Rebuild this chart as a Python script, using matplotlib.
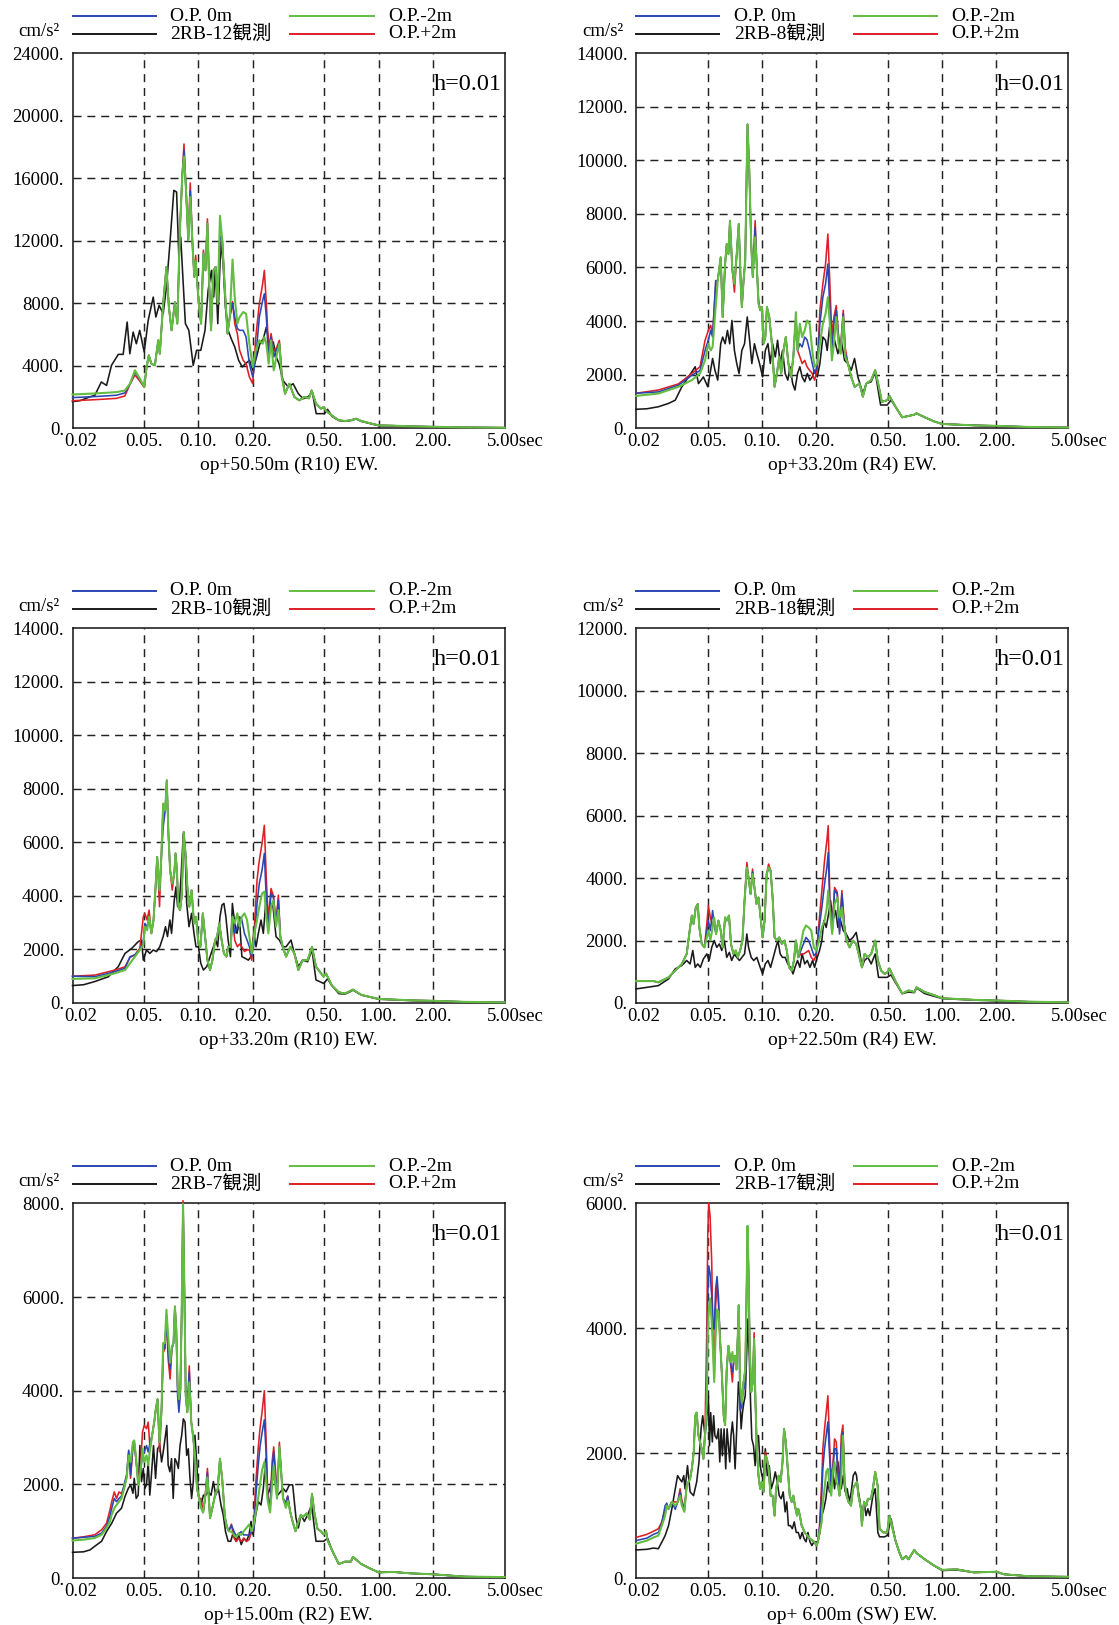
import matplotlib
matplotlib.use("Agg")
import matplotlib.pyplot as plt
import matplotlib.transforms as mtransforms

plt.rcParams['font.family'] = ['Liberation Serif', 'Noto Sans CJK JP']

# ---------------- panel 1 : op+50.50m (R10) ----------------
p1_t_obs = [0.02, 0.022, 0.025, 0.0266, 0.0289, 0.0309, 0.0329, 0.0359, 0.0382, 0.0402,
            0.0416, 0.0434, 0.0452, 0.0472, 0.05, 0.0526, 0.0561, 0.058, 0.0605, 0.0637,
            0.0664, 0.0694, 0.073, 0.0756, 0.0778, 0.0797, 0.0821, 0.0846, 0.0884, 0.0935,
            0.0976, 0.103, 0.1087, 0.1131, 0.118, 0.1215, 0.124, 0.128, 0.133, 0.137,
            0.141, 0.146, 0.152, 0.159, 0.167, 0.175, 0.182, 0.192, 0.2, 0.21,
            0.219, 0.229, 0.238, 0.249, 0.26, 0.27, 0.28, 0.294, 0.315, 0.335,
            0.358, 0.381, 0.405, 0.428, 0.45, 0.5, 0.52, 0.55, 0.6, 0.65,
            0.7, 0.75, 0.8, 0.9, 1.0, 1.2, 1.5, 2.0, 3.0, 5.0]
p1_obs = [1700, 1750, 2000, 2093, 2950, 2730, 4015, 4720, 4720, 6790,
          4760, 6150, 5400, 6260, 4870, 6900, 8390, 7110, 7860, 7330,
          9035, 11810, 15230, 15120, 10960, 12240, 9460, 6690, 6260, 4015,
          4980, 4980, 6260, 8820, 10100, 8390, 10320, 6690, 11920, 10530,
          7750, 6260, 5720, 5190, 4340, 3910, 4120, 4340, 3700, 4550,
          5400, 5720, 6470, 5190, 5510, 4550, 4120, 3050, 2630, 2840,
          2200, 1880, 1990, 2310, 920, 920, 1200, 750, 480, 430,
          480, 580, 430, 280, 150, 140, 100, 70, 35, 15]
p1_t_sim = [0.02, 0.025, 0.03, 0.035, 0.039, 0.0417, 0.0444, 0.0473, 0.05, 0.0515,
            0.053, 0.0548, 0.0573, 0.0598, 0.061, 0.0637, 0.0664, 0.0685, 0.0709, 0.074,
            0.0763, 0.079, 0.0814, 0.0831, 0.0853, 0.0878, 0.09, 0.0928, 0.0948, 0.0965,
            0.0982, 0.1008, 0.1034, 0.1065, 0.1093, 0.1121, 0.1145, 0.1174, 0.121, 0.1246,
            0.1278, 0.1316, 0.1355, 0.1401, 0.1449, 0.1492, 0.1545, 0.1589, 0.1643, 0.1691,
            0.177, 0.1837, 0.1916, 0.2, 0.208, 0.2176, 0.2271, 0.232, 0.238, 0.2452,
            0.2527, 0.2615, 0.2705, 0.2811, 0.2896, 0.3022, 0.3194, 0.3404, 0.3628, 0.3867,
            0.41, 0.4246, 0.4488, 0.4783, 0.4948, 0.51, 0.55, 0.6, 0.65, 0.7,
            0.75, 0.8, 0.9, 1.0, 1.2, 1.5, 2.0, 3.0, 5.0]
p1_opm2 = [2150, 2200, 2250, 2300, 2400, 2840, 3700, 3160, 2630, 3910,
           4660, 4120, 4015, 5620, 4760, 7970, 10320, 7750, 6260, 8070,
           6690, 12880, 16300, 17400, 15230, 12030, 14800, 11600, 9680, 10700,
           9460, 7750, 6690, 11200, 10100, 13100, 9460, 6260, 10100, 10320,
           7970, 13600, 12030, 8820, 6050, 7110, 10800, 8390, 6690, 7110,
           7430, 7330, 5400, 3910, 4980, 5620, 5400, 5830, 5400, 4120,
           5620, 3700, 4550, 5400, 3270, 2200, 2840, 1990, 1770, 1990,
           1900, 2410, 1560, 1240, 1350, 1100, 800, 500, 450, 500,
           600, 450, 300, 170, 150, 110, 80, 40, 20]
p1_op0 = [1950, 2000, 2050, 2100, 2250, 2840, 3600, 3100, 2700, 3900,
          4660, 4120, 4015, 5620, 4760, 7970, 10320, 7750, 6260, 8070,
          6690, 12880, 16300, 17800, 15230, 12030, 15200, 11600, 9680, 10700,
          9460, 7750, 6690, 11200, 10100, 13100, 9460, 6260, 10100, 10320,
          7970, 12300, 12030, 8820, 6050, 7110, 8000, 7110, 6370, 6260,
          6260, 5830, 4120, 3270, 4550, 7110, 8180, 8600, 7110, 4340,
          5830, 4550, 4980, 5400, 3400, 2200, 2840, 1990, 1770, 1990,
          1900, 2410, 1560, 1240, 1350, 1100, 800, 500, 450, 500,
          600, 450, 300, 170, 150, 110, 80, 40, 20]
p1_opp2 = [1750, 1800, 1850, 1900, 2050, 2800, 3400, 3000, 2600, 3800,
           4660, 4120, 4015, 5620, 4760, 7970, 10320, 7750, 6260, 8070,
           6690, 12880, 16300, 18200, 15230, 12030, 15700, 11600, 9680, 11060,
           9460, 7750, 6690, 11400, 10100, 13400, 9460, 6260, 10100, 10320,
           7970, 12300, 12030, 8820, 6050, 7110, 8100, 6690, 6050, 4980,
           4340, 4120, 3270, 2840, 5830, 7970, 9250, 10100, 7970, 4980,
           6050, 4980, 5100, 5620, 3500, 2200, 2840, 1990, 1770, 1990,
           1900, 2410, 1560, 1240, 1350, 1100, 800, 500, 450, 500,
           600, 450, 300, 170, 150, 110, 80, 40, 20]

# ---------------- panel 2 : op+33.20m (R4) ----------------
p2_t_obs = [0.02, 0.023, 0.0266, 0.0303, 0.033, 0.0359, 0.0391, 0.0426, 0.0444, 0.0473,
            0.05, 0.0515, 0.0532, 0.0548, 0.0568, 0.059, 0.0605, 0.0624, 0.0643, 0.0662,
            0.0681, 0.0703, 0.0724, 0.0746, 0.0773, 0.08, 0.0828, 0.085, 0.0878, 0.0908,
            0.0936, 0.0969, 0.1008, 0.1043, 0.1079, 0.1112, 0.1145, 0.1185, 0.122, 0.1262,
            0.13, 0.1344, 0.139, 0.1431, 0.148, 0.1523, 0.1575, 0.1622, 0.167, 0.1726,
            0.1784, 0.1845, 0.19, 0.1957, 0.2025, 0.2095, 0.2176, 0.2252, 0.23, 0.237,
            0.2452, 0.2527, 0.2637, 0.2752, 0.2872, 0.2996, 0.3127, 0.3262, 0.3404, 0.3628,
            0.3786, 0.4035, 0.4246, 0.455, 0.4948, 0.52, 0.55, 0.6, 0.65, 0.7,
            0.72, 0.8, 0.9, 1.0, 1.2, 1.5, 2.0, 3.0, 5.0]
p2_obs = [700, 720, 795, 920, 1040, 1540, 1910, 2290, 1660, 1910,
          1540, 2040, 2600, 2160, 1790, 3150, 3400, 3150, 3650, 3150,
          4020, 2900, 2410, 2040, 2900, 3150, 4150, 3400, 2410, 3150,
          2780, 2410, 1910, 2900, 3150, 2410, 3150, 2660, 3280, 2410,
          2900, 2040, 1790, 2290, 1660, 1420, 2040, 2290, 1910, 1730,
          2040, 1790, 1910, 2160, 1910, 2410, 3400, 3280, 2900, 3780,
          2900, 3280, 2780, 3280, 2530, 2410, 2160, 2600, 1910, 1290,
          1660, 1730, 2100, 860, 860, 1040, 800, 400, 450, 500,
          550, 400, 250, 150, 130, 100, 70, 35, 15]
p2_t_sim = [0.02, 0.0266, 0.0344, 0.0408, 0.0453, 0.0483, 0.0504, 0.0519, 0.0532, 0.0553,
            0.0568, 0.059, 0.0605, 0.0624, 0.0637, 0.0651, 0.0664, 0.0685, 0.0703, 0.0724,
            0.0743, 0.0763, 0.0773, 0.079, 0.0807, 0.0821, 0.0831, 0.085, 0.0871, 0.0889,
            0.0916, 0.0936, 0.0956, 0.0977, 0.0999, 0.1021, 0.1043, 0.1065, 0.1097, 0.1135,
            0.1174, 0.121, 0.1246, 0.1278, 0.1316, 0.1355, 0.1401, 0.1449, 0.1492, 0.1542,
            0.1575, 0.1622, 0.167, 0.1726, 0.1777, 0.1837, 0.19, 0.1957, 0.2025, 0.2095,
            0.2176, 0.2252, 0.232, 0.238, 0.2442, 0.2506, 0.2582, 0.2659, 0.2728, 0.2823,
            0.2896, 0.2996, 0.3127, 0.3262, 0.3477, 0.3628, 0.3786, 0.4035, 0.4246, 0.4488,
            0.4623, 0.4948, 0.51, 0.55, 0.6, 0.65, 0.7, 0.72, 0.8, 0.9,
            1.0, 1.5, 2.0, 3.0, 5.0]
p2_opm2 = [1200, 1290, 1540, 1790, 2040, 2530, 3150, 2900, 3030, 4520,
           5510, 6380, 4150, 6130, 6880, 6510, 7750, 5890, 5390, 6510,
           7630, 5270, 4520, 5510, 6260, 9370, 11350, 9610, 6880, 5640,
           7130, 6010, 4650, 4400, 4520, 3150, 3400, 4520, 4150, 3150,
           1540, 2040, 2660, 2040, 2900, 3400, 2410, 1910, 2660, 4330,
           2900, 3900, 3400, 3650, 4020, 3900, 2900, 2290, 2410, 3150,
           3900, 4270, 4890, 3900, 2530, 3150, 4150, 3150, 2780, 4150,
           2660, 2410, 1910, 1540, 1660, 1170, 1660, 1790, 2160, 1420,
           980, 1040, 1200, 800, 400, 450, 500, 550, 400, 250,
           150, 100, 80, 40, 20]
p2_op0 = [1300, 1350, 1600, 1970, 2150, 2900, 3300, 3650, 3400, 5510,
          5510, 6380, 4150, 6130, 6880, 6510, 7750, 5890, 5390, 6510,
          7630, 5270, 4520, 5510, 6260, 9370, 11350, 9610, 6880, 5640,
          7500, 6010, 4700, 4400, 4520, 3150, 3400, 4520, 4150, 3150,
          1540, 2040, 2660, 2040, 2900, 3400, 2410, 1910, 2660, 4150,
          2900, 3150, 3030, 3400, 3300, 2900, 2410, 2040, 2300, 3900,
          4890, 5390, 6130, 4400, 2900, 3900, 4400, 3400, 2800, 4270,
          2800, 2410, 1910, 1540, 1660, 1170, 1660, 1790, 2160, 1420,
          980, 1040, 1200, 800, 400, 450, 500, 550, 400, 250,
          150, 100, 80, 40, 20]
p2_opp2 = [1300, 1420, 1650, 2040, 2290, 3280, 3650, 3840, 3500, 5300,
           5510, 6380, 4150, 6130, 6880, 6510, 7750, 5890, 5080, 6510,
           7630, 5270, 4520, 5510, 6260, 9370, 11350, 9610, 6880, 5640,
           7750, 6010, 4800, 4400, 4520, 3150, 3400, 4520, 4150, 3150,
           1540, 2040, 2660, 2040, 2900, 3400, 2410, 1910, 2660, 4150,
           2900, 2660, 2410, 2530, 2290, 2160, 2040, 1790, 2160, 4400,
           5390, 6130, 7250, 5390, 3400, 4150, 4580, 3400, 3000, 4400,
           3000, 2410, 1910, 1540, 1660, 1170, 1660, 1790, 2160, 1420,
           980, 1040, 1200, 800, 400, 450, 500, 550, 400, 250,
           150, 100, 80, 40, 20]

# ---------------- panel 3 : op+33.20m (R10) ----------------
p3_t_obs = [0.02, 0.023, 0.0266, 0.0316, 0.0359, 0.0391, 0.0426, 0.0463, 0.0483, 0.0494,
            0.0515, 0.0537, 0.0561, 0.0585, 0.061, 0.0637, 0.0656, 0.0673, 0.0694, 0.0709,
            0.0734, 0.075, 0.0766, 0.0786, 0.08, 0.0824, 0.0842, 0.086, 0.0886, 0.0916,
            0.0944, 0.0969, 0.0999, 0.103, 0.1065, 0.1112, 0.1159, 0.121, 0.1246, 0.1278,
            0.1316, 0.135, 0.1384, 0.1419, 0.1461, 0.1504, 0.1542, 0.1589, 0.1636, 0.1691,
            0.1741, 0.1814, 0.1892, 0.1957, 0.2025, 0.2086, 0.2148, 0.2223, 0.229, 0.236,
            0.2421, 0.2506, 0.2582, 0.2693, 0.2811, 0.2933, 0.3061, 0.3262, 0.3404, 0.3582,
            0.3786, 0.4035, 0.4264, 0.4488, 0.4948, 0.52, 0.55, 0.6, 0.65, 0.7,
            0.72, 0.8, 1.0, 1.5, 2.0, 3.0, 5.0]
p3_obs = [650, 680, 800, 980, 1360, 1850, 2040, 2290, 2350, 1600,
          1980, 1850, 1980, 1920, 2100, 2480, 2850, 2480, 3100, 2600,
          3840, 4340, 3600, 3840, 4710, 6330, 5840, 3720, 2850, 3350,
          2600, 2100, 2100, 1480, 1230, 1360, 1730, 2100, 2350, 2100,
          3220, 3660, 3720, 3220, 2350, 1730, 3720, 2970, 2600, 3100,
          1730, 1670, 1600, 1730, 2600, 2100, 2600, 3100, 2600, 3720,
          3220, 3600, 3720, 2480, 2350, 2100, 2100, 2350, 1850, 1360,
          1600, 1540, 1980, 860, 730, 900, 650, 350, 330, 430,
          480, 300, 140, 90, 70, 30, 15]
p3_t_sim = [0.02, 0.0266, 0.0344, 0.0391, 0.0417, 0.0444, 0.0473, 0.0494, 0.0504, 0.0519,
            0.0532, 0.0548, 0.0563, 0.0578, 0.059, 0.0608, 0.0621, 0.0637, 0.0654, 0.0667,
            0.0681, 0.0696, 0.0715, 0.0734, 0.0746, 0.0759, 0.0773, 0.079, 0.0807, 0.0828,
            0.085, 0.0867, 0.0889, 0.0916, 0.0944, 0.0969, 0.0999, 0.1025, 0.1057, 0.1088,
            0.1121, 0.1159, 0.1195, 0.1236, 0.1268, 0.1305, 0.1344, 0.1384, 0.1431, 0.1461,
            0.151, 0.1542, 0.1589, 0.1643, 0.1691, 0.1741, 0.1799, 0.186, 0.1916, 0.1974,
            0.2043, 0.2113, 0.2176, 0.2252, 0.232, 0.238, 0.2442, 0.2527, 0.2604, 0.2693,
            0.2775, 0.2847, 0.2933, 0.3061, 0.3235, 0.3404, 0.3582, 0.3786, 0.4035, 0.4264,
            0.4488, 0.4783, 0.4948, 0.51, 0.55, 0.6, 0.65, 0.72, 0.8, 1.0,
            1.5, 2.0, 3.0, 5.0]
p3_opm2 = [900, 920, 1110, 1230, 1480, 1730, 1980, 2160, 2850, 2720,
           3220, 2600, 3100, 4340, 5460, 4210, 5340, 7450, 7200, 8320,
           6330, 4960, 4460, 4840, 5590, 4960, 3600, 3470, 3970, 6390,
           5460, 4340, 3600, 4210, 2970, 3220, 2230, 2100, 3350, 2480,
           1600, 1230, 1600, 2350, 2480, 2970, 2350, 1850, 1730, 2100,
           2100, 3220, 2970, 3350, 2850, 3220, 3350, 3100, 2480, 1850,
           2600, 3100, 3600, 4090, 4160, 3220, 2600, 3600, 3840, 2850,
           3470, 2480, 2100, 1730, 2100, 1850, 1230, 1600, 1600, 2100,
           1360, 1110, 980, 1100, 650, 400, 350, 500, 300, 150,
           100, 80, 40, 20]
p3_op0 = [1000, 980, 1170, 1300, 1730, 1800, 2000, 2300, 2970, 2850,
          3150, 2600, 3100, 4340, 5460, 4210, 5340, 6580, 7200, 8320,
          6330, 4960, 4460, 4840, 5590, 4960, 3600, 3470, 3970, 6390,
          5460, 4340, 3600, 4210, 2970, 3220, 2230, 2100, 3350, 2480,
          1600, 1230, 1600, 2350, 2480, 2970, 2350, 1850, 1730, 2100,
          2100, 3220, 2600, 2850, 3220, 3100, 2600, 2350, 2100, 1730,
          2350, 3720, 4470, 4960, 5590, 3840, 2850, 4090, 3970, 2970,
          3840, 2480, 2100, 1730, 2100, 1850, 1230, 1600, 1600, 2100,
          1360, 1110, 980, 1100, 650, 400, 350, 500, 300, 150,
          100, 80, 40, 20]
p3_opp2 = [1000, 1040, 1230, 1350, 1700, 1800, 2050, 3220, 3350, 3100,
           3470, 2600, 3100, 4340, 5460, 3600, 5340, 7450, 7200, 8320,
           6330, 4960, 4220, 4840, 5590, 4960, 3600, 3470, 3970, 6390,
           5460, 4340, 3600, 4210, 2970, 3220, 2230, 2100, 3350, 2480,
           1600, 1230, 1600, 2350, 2480, 2970, 2350, 1850, 1730, 2100,
           2100, 3220, 2350, 2100, 2200, 2100, 1920, 1980, 1980, 1600,
           2850, 4590, 5340, 5960, 6640, 4590, 3100, 4280, 4000, 3000,
           4030, 2480, 2100, 1730, 2100, 1850, 1230, 1600, 1600, 2100,
           1360, 1110, 980, 1100, 650, 400, 350, 500, 300, 150,
           100, 80, 40, 20]

# ---------------- panel 4 : op+22.50m (R4) ----------------
p4_t_obs = [0.02, 0.023, 0.0266, 0.0303, 0.033, 0.0359, 0.0382, 0.0399, 0.0413, 0.0426,
            0.044, 0.0455, 0.0473, 0.0494, 0.0509, 0.0526, 0.0543, 0.0561, 0.058, 0.0598,
            0.0618, 0.0637, 0.0659, 0.0679, 0.0703, 0.0724, 0.075, 0.0773, 0.08, 0.0824,
            0.0842, 0.0871, 0.09, 0.0936, 0.0977, 0.1008, 0.1043, 0.1079, 0.1116, 0.1155,
            0.1195, 0.1225, 0.1262, 0.13, 0.1344, 0.139, 0.1437, 0.1486, 0.1523, 0.1575,
            0.1622, 0.167, 0.1726, 0.1784, 0.1845, 0.1908, 0.1957, 0.2025, 0.2086, 0.2148,
            0.2204, 0.2271, 0.234, 0.2401, 0.2473, 0.256, 0.2637, 0.2728, 0.2823, 0.2933,
            0.3061, 0.3194, 0.3332, 0.3477, 0.3582, 0.3706, 0.3867, 0.4035, 0.4246, 0.4431,
            0.4948, 0.52, 0.55, 0.6, 0.65, 0.7, 0.72, 0.8, 1.0, 1.5,
            2.0, 3.0, 5.0]
p4_obs = [450, 500, 555, 770, 1090, 1200, 1360, 1250, 1680, 1140,
          1250, 1140, 1410, 1570, 1360, 1780, 2000, 1780, 1890, 1680,
          2000, 1460, 1620, 1360, 1570, 1460, 1360, 1460, 1570, 2210,
          1780, 1460, 1360, 1460, 1140, 930, 1250, 1360, 1140, 1460,
          1780, 2000, 1570, 1460, 1460, 1250, 1140, 930, 1140, 1360,
          1140, 1570, 1250, 1360, 1140, 1360, 1140, 1460, 1680, 2000,
          2640, 2420, 2850, 3280, 2640, 2960, 2420, 2640, 2320, 2210,
          2000, 2100, 2260, 1680, 1140, 1360, 1460, 1250, 1570, 820,
          820, 900, 650, 300, 350, 330, 480, 300, 140, 90,
          70, 30, 15]
p4_t_sim = [0.02, 0.025, 0.0266, 0.0303, 0.033, 0.0359, 0.0382, 0.0399, 0.0408, 0.0417,
            0.0429, 0.044, 0.0449, 0.0463, 0.0479, 0.0494, 0.0504, 0.0517, 0.0532, 0.0543,
            0.0556, 0.0573, 0.059, 0.0605, 0.0624, 0.0637, 0.0656, 0.0673, 0.0694, 0.0715,
            0.0734, 0.0756, 0.0779, 0.08, 0.0824, 0.0842, 0.0864, 0.0886, 0.0908, 0.0932,
            0.0956, 0.0982, 0.1008, 0.1034, 0.1061, 0.1088, 0.1116, 0.1145, 0.1174, 0.121,
            0.1246, 0.1289, 0.1333, 0.1372, 0.1413, 0.1461, 0.1504, 0.1542, 0.1589, 0.1643,
            0.1698, 0.1755, 0.1814, 0.1876, 0.194, 0.2, 0.2077, 0.2148, 0.2223, 0.229,
            0.233, 0.238, 0.2452, 0.2527, 0.2615, 0.2693, 0.2775, 0.2859, 0.2946, 0.3061,
            0.3194, 0.3332, 0.3477, 0.3582, 0.3706, 0.3867, 0.4035, 0.4246, 0.4393, 0.4584,
            0.4783, 0.4948, 0.51, 0.55, 0.6, 0.65, 0.7, 0.72, 0.8, 0.9,
            1.0, 1.5, 2.0, 3.0, 5.0]
p4_opm2 = [700, 700, 660, 820, 1035, 1250, 1570, 2420, 2800, 2530,
           3060, 3170, 2420, 1890, 1780, 2100, 2320, 2000, 2420, 2740,
           2210, 2640, 2320, 1780, 2740, 2640, 2800, 1890, 1570, 1680,
           1460, 1680, 2000, 3280, 4340, 4020, 3490, 4130, 3700, 3170,
           3380, 2740, 2100, 2640, 4130, 4340, 4240, 3380, 2100, 2000,
           2100, 1890, 2000, 1680, 1140, 1035, 1360, 2000, 1460, 1890,
           2320, 2480, 2420, 2320, 1780, 1680, 2000, 2420, 2640, 3060,
           3600, 2960, 2210, 3170, 3380, 2740, 3060, 2420, 2000, 1780,
           2000, 1890, 1460, 1140, 1570, 1460, 1570, 2000, 1360, 1035,
           930, 980, 1100, 700, 300, 400, 350, 500, 350, 250,
           150, 100, 80, 40, 20]
p4_op0 = [700, 700, 660, 820, 1035, 1250, 1570, 2420, 2800, 2530,
          3060, 3170, 2420, 1890, 1780, 2300, 2640, 2320, 2960, 2500,
          2210, 2640, 2320, 1780, 2740, 2640, 2800, 1890, 1570, 1680,
          1460, 1680, 2000, 3280, 4340, 4020, 3490, 4200, 3700, 3170,
          3380, 2740, 2100, 2640, 4130, 4300, 4240, 3380, 2100, 2000,
          2100, 1890, 2000, 1680, 1140, 1035, 1360, 2000, 1460, 1680,
          1890, 2100, 2000, 1780, 1515, 1600, 2420, 3060, 3810, 4340,
          4820, 3060, 2300, 3600, 3500, 2210, 3490, 2500, 2000, 1780,
          2000, 1890, 1460, 1140, 1570, 1460, 1570, 2000, 1360, 1035,
          930, 980, 1100, 700, 300, 400, 350, 500, 350, 250,
          150, 100, 80, 40, 20]
p4_opp2 = [700, 700, 660, 820, 1035, 1250, 1570, 2420, 2800, 2530,
           3060, 3170, 2420, 1890, 1780, 2530, 3120, 2740, 2480, 2600,
           2210, 2640, 2320, 1780, 2740, 2640, 2800, 1890, 1570, 1680,
           1460, 1680, 2000, 3280, 4500, 4020, 3490, 4290, 3700, 3170,
           3380, 2740, 2100, 2640, 4130, 4450, 4240, 3380, 2100, 2000,
           2100, 1890, 2000, 1680, 1140, 1035, 1360, 2000, 1460, 1570,
           1570, 1620, 1680, 1460, 1360, 1550, 2640, 3600, 4560, 5200,
           5680, 3280, 2350, 3700, 3550, 2300, 3600, 2550, 2000, 1780,
           2000, 1890, 1460, 1140, 1570, 1460, 1570, 2000, 1360, 1035,
           930, 980, 1100, 700, 300, 400, 350, 500, 350, 250,
           150, 100, 80, 40, 20]

# ---------------- panel 5 : op+15.00m (R2) ----------------
p5_t_obs = [0.02, 0.023, 0.025,
            0.0266, 0.029, 0.0309, 0.033, 0.0351, 0.0374, 0.0391, 0.0408, 0.042, 0.0433,
            0.044, 0.0451, 0.0463, 0.0473, 0.0483, 0.0494, 0.0504, 0.0515, 0.0526, 0.0537,
            0.0548, 0.0563, 0.0578, 0.0593, 0.061, 0.0624, 0.0637, 0.0656, 0.0667, 0.0679,
            0.0694, 0.0709, 0.0724, 0.074, 0.0756, 0.0773, 0.079, 0.0807, 0.0824, 0.0842,
            0.086, 0.0878, 0.0897, 0.0916, 0.0936, 0.0956, 0.0977, 0.0999, 0.1034, 0.1065,
            0.1097, 0.1135, 0.1174, 0.121, 0.1246, 0.1289, 0.1333, 0.1372, 0.1413, 0.1461,
            0.151, 0.1562, 0.1615, 0.167, 0.1726, 0.1784, 0.1845, 0.1908, 0.1957, 0.2008,
            0.2077, 0.2148, 0.2223, 0.229, 0.236, 0.2421, 0.2495, 0.2582, 0.2659, 0.2752,
            0.2847, 0.2946, 0.3061, 0.3194, 0.3332, 0.3477, 0.3582, 0.3706, 0.3867, 0.4035,
            0.4246, 0.4488, 0.4948, 0.5206,
            0.55, 0.6, 0.65, 0.7, 0.72, 0.8, 0.9, 1.0, 1.2, 1.5, 2.0, 3.0, 5.0]
p5_obs = [550, 560, 600,
          680, 785, 995, 1170, 1385, 1490, 1740, 1915, 1990, 1810,
          2130, 1700, 1770, 2830, 2060, 2340, 1915, 1990, 2480, 1770,
          2200, 2830, 2130, 2760, 2830, 2480, 2690, 3050, 3260, 2410,
          2270, 2550, 1700, 2550, 2480, 2340, 2830, 3050, 3400, 3330,
          2620, 2760, 2130, 1700, 2060, 3050, 2480, 1770, 1560, 1770,
          1770, 1840, 1770, 2060, 1770, 1910, 1560, 1350, 990, 785,
          785, 990, 785, 925, 715, 850, 785, 925, 1210, 925,
          1350, 1630, 1560, 1915, 2550, 1770, 1915, 2200, 2060, 1770,
          1840, 1915, 1840, 1990, 1990, 1280, 1070, 1350, 1210, 1350,
          1560, 785, 785, 850,
          600, 300, 350, 350, 450, 300, 200, 120, 130, 100, 80, 30, 15]
p5_t_sim = [0.02, 0.023, 0.0266, 0.029, 0.0309, 0.0323, 0.033, 0.0341, 0.0351, 0.0362,
            0.0374, 0.0387, 0.0399, 0.041, 0.042, 0.0433, 0.044, 0.0451, 0.0463, 0.0477,
            0.0489, 0.05, 0.0515, 0.0526, 0.0539, 0.0553, 0.0568, 0.058, 0.0593, 0.0608,
            0.0624, 0.0637, 0.0651, 0.0664, 0.0679, 0.0696, 0.0712, 0.0727, 0.074, 0.0753,
            0.0766, 0.0779, 0.0793, 0.0807, 0.0821, 0.0835, 0.085, 0.0867, 0.0889, 0.0912,
            0.0932, 0.0956, 0.0982, 0.1008, 0.1034, 0.1061, 0.1088, 0.1121, 0.1159, 0.1195,
            0.1236, 0.1278, 0.1316, 0.1355, 0.1401, 0.1437, 0.1473, 0.1523, 0.1575, 0.1622,
            0.167, 0.1726, 0.1784, 0.1845, 0.1908, 0.1974, 0.2025, 0.2077, 0.2144, 0.2195,
            0.2252, 0.232, 0.237, 0.2421, 0.2498, 0.2563, 0.2615, 0.2686, 0.2728, 0.2811,
            0.2872, 0.2946, 0.3053, 0.3127, 0.3235, 0.3332, 0.3453, 0.3552, 0.3696, 0.3786,
            0.3976, 0.4146, 0.4264, 0.4393, 0.4573, 0.477, 0.4948, 0.5106, 0.5206, 0.55,
            0.6, 0.65, 0.7, 0.72, 0.8, 0.9, 1.0, 1.2, 1.5, 2.0,
            3.0, 5.0]
p5_opm2 = [800, 820, 855, 925, 1070, 1210, 1350, 1490, 1560, 1630,
           1700, 1910, 2130, 2620, 2480, 2900, 2940, 2550, 1990, 2270,
           2760, 2480, 2620, 2410, 2760, 3050, 3330, 3610, 3820, 2900,
           3610, 5020, 5020, 5730, 5170, 4600, 4950, 5020, 5800, 5310,
           4180, 3820, 4040, 5660, 7990, 6160, 3890, 3540, 4180, 3330,
           3050, 2620, 1910, 1700, 1500, 1400, 1700, 2150, 1280, 1500,
           1770, 1900, 2550, 2100, 1300, 1100, 1000, 990, 920, 870,
           950, 920, 1000, 1070, 1140, 1000, 1150, 1400, 1700, 2000,
           2300, 2480, 2100, 1650, 1400, 2000, 2400, 1900, 1700, 2800,
           2300, 1700, 1500, 1650, 1400, 1200, 1000, 1150, 1350, 1300,
           1380, 1250, 1800, 1400, 1050, 1000, 930, 1000, 800, 600,
           300, 350, 350, 450, 300, 200, 120, 130, 100, 80,
           30, 20]
p5_op0 = [850, 870, 890, 960, 1110, 1330, 1490, 1700, 1630, 1700,
          1750, 2000, 2200, 2730, 2200, 2900, 2900, 2500, 2000, 2300,
          2620, 2690, 2830, 2690, 2900, 3050, 3330, 3610, 3820, 2900,
          3610, 4950, 4900, 5600, 4810, 4460, 4900, 5020, 5800, 5310,
          3890, 3540, 3960, 5660, 7990, 6160, 3890, 3540, 4400, 3330,
          3050, 2620, 1910, 1700, 1500, 1400, 1700, 2250, 1280, 1500,
          1770, 1900, 2550, 2100, 1300, 1100, 1000, 1130, 990, 900,
          950, 990, 920, 920, 920, 1000, 1000, 1700, 2400, 2800,
          3100, 3380, 2700, 1700, 1500, 2350, 2700, 2100, 1700, 2800,
          2300, 1700, 1600, 1750, 1400, 1200, 1000, 1150, 1350, 1300,
          1380, 1250, 1800, 1400, 1050, 1000, 930, 1000, 800, 600,
          300, 350, 350, 450, 300, 200, 120, 130, 100, 80,
          30, 20]
p5_opp2 = [850, 880, 925, 1030, 1170, 1460, 1630, 1840, 1700, 1840,
           1800, 1950, 2150, 2700, 2130, 2800, 2900, 2500, 2100, 2400,
           3120, 3260, 3190, 3330, 2760, 3050, 3330, 3610, 3820, 2700,
           3610, 4810, 4900, 5600, 4670, 4250, 4900, 5020, 5800, 5310,
           4100, 3700, 4000, 5660, 8060, 6160, 3890, 3540, 4530, 3330,
           3050, 2620, 1910, 1700, 1700, 1400, 1700, 2340, 1280, 1500,
           1770, 1900, 2550, 2100, 1300, 1100, 1000, 1150, 850, 780,
           850, 780, 850, 780, 820, 990, 1150, 2000, 2760, 3200,
           3540, 4000, 3000, 1800, 1500, 2480, 2800, 2200, 1700, 2900,
           2300, 1700, 1600, 1750, 1400, 1200, 1000, 1150, 1350, 1300,
           1380, 1250, 1800, 1400, 1050, 1000, 930, 1000, 800, 600,
           300, 350, 350, 450, 300, 200, 120, 130, 100, 80,
           30, 20]

# ---------------- panel 6 : op+ 6.00m (SW) ----------------
p6_t_obs = [0.02, 0.023, 0.025,
            0.0266, 0.0278, 0.029, 0.0303, 0.0316, 0.033, 0.034, 0.0349, 0.0359, 0.0368,
            0.0374, 0.0386, 0.0399, 0.0417, 0.0434, 0.0447, 0.0459, 0.0469, 0.0483, 0.0496,
            0.0504, 0.0511, 0.0519, 0.053, 0.0539, 0.0548, 0.0561, 0.0573, 0.0583, 0.0593,
            0.0603, 0.0616, 0.0629, 0.064, 0.0651, 0.0662, 0.0673, 0.0685, 0.0696, 0.0709,
            0.0724, 0.074, 0.0753, 0.0766, 0.0779, 0.0793, 0.0807, 0.0821, 0.0835, 0.085,
            0.0864, 0.0878, 0.0897, 0.0916, 0.0936, 0.0956, 0.0977, 0.0999, 0.1021, 0.1043,
            0.107, 0.1097, 0.1126, 0.1155, 0.1185, 0.1215, 0.1246, 0.1278, 0.1311, 0.1344,
            0.1372, 0.1401, 0.1437, 0.1473, 0.151, 0.1549, 0.1589, 0.1629, 0.167, 0.1712,
            0.1755, 0.1799, 0.1845, 0.1892, 0.194, 0.1991, 0.2043, 0.2095, 0.2148, 0.2204,
            0.2261, 0.232, 0.237, 0.2421, 0.2473, 0.2527, 0.2582, 0.2637, 0.2693, 0.2752,
            0.2823, 0.2896, 0.297, 0.3048, 0.3127, 0.3207, 0.329, 0.3346, 0.3404, 0.3503,
            0.3582, 0.3683, 0.3777, 0.3867, 0.3964, 0.4124, 0.4246, 0.4393, 0.4488, 0.4783,
            0.4948,
            0.52, 0.55, 0.58, 0.6, 0.63, 0.65, 0.7, 0.72, 0.8, 0.9, 1.0, 1.2, 1.5, 2.0, 2.2, 3.0, 5.0]
p6_obs = [450, 460, 480,
          470, 575, 680, 840, 1110, 1430, 1640, 1590, 1540, 1640,
          1430, 1800, 1380, 1320, 1540, 1860, 2390, 2600, 2280, 2650,
          2920, 2120, 2650, 2180, 2600, 2280, 2230, 2390, 1860, 2390,
          1960, 2390, 1750, 2390, 2120, 1860, 2280, 2500, 2280, 1750,
          2390, 3140, 2920, 2390, 2650, 2810, 2920, 3560, 4150, 3560,
          2810, 2230, 2120, 1800, 2280, 2280, 1800, 1640, 1590, 2070,
          1640, 1800, 1430, 1540, 1700, 1540, 1320, 1270, 1380, 1060,
          1220, 840, 840, 790, 900, 730, 730, 630, 730, 630,
          580, 730, 580, 520, 580, 580, 580, 730, 1000, 1110,
          1270, 1540, 1380, 1540, 1700, 1430, 1700, 1860, 1640, 1430,
          1640, 1380, 1430, 1220, 1380, 1640, 1700, 1640, 1430, 1220,
          950, 1220, 1000, 1110, 1000, 1320, 1430, 730, 660, 660,
          680,
          950, 600, 400, 300, 350, 300, 450, 400, 300, 200, 120, 130, 90, 100, 60, 30, 15]
p6_t_sim = [0.02, 0.023, 0.025,
            0.0266, 0.0278, 0.029, 0.0296, 0.0303, 0.0316, 0.033, 0.0341, 0.0351, 0.0359,
            0.0371, 0.0382, 0.0399, 0.0408, 0.0418, 0.0426, 0.0434, 0.0444, 0.0453, 0.0463,
            0.0473, 0.0483, 0.0494, 0.05, 0.0506, 0.0515, 0.0526, 0.0535, 0.0543, 0.0553,
            0.0563, 0.0573, 0.0585, 0.0598, 0.0613, 0.0624, 0.0637, 0.0651, 0.0662, 0.0673,
            0.0685, 0.0696, 0.0709, 0.0721, 0.0734, 0.0743, 0.0756, 0.0773, 0.079, 0.0807,
            0.0821, 0.0831, 0.0842, 0.0855, 0.0871, 0.0889, 0.0904, 0.0919, 0.0936, 0.0956,
            0.0977, 0.0999, 0.1021, 0.1043, 0.1065, 0.1088, 0.1116, 0.1145, 0.1174, 0.1197,
            0.1236, 0.1268, 0.13, 0.1325, 0.1355, 0.139, 0.1425, 0.1461, 0.1492, 0.1523,
            0.1564, 0.1589, 0.1622, 0.166, 0.1691, 0.1726, 0.1785, 0.1847, 0.1903, 0.1952,
            0.2003, 0.2043, 0.2086, 0.2144, 0.2176, 0.2223, 0.2271, 0.232, 0.237, 0.2421,
            0.2473, 0.2527, 0.2582, 0.2637, 0.2693, 0.2752, 0.2811, 0.2872, 0.2946, 0.3022,
            0.3118, 0.3198, 0.3262, 0.3366, 0.3428, 0.3542, 0.3582, 0.3683, 0.3793, 0.3867,
            0.4025, 0.4124, 0.4246, 0.4383, 0.4488, 0.4711, 0.4948,
            0.51, 0.55, 0.58, 0.6, 0.63, 0.65, 0.7, 0.72, 0.8, 0.9, 1.0, 1.2, 1.5, 2.0, 2.2, 3.0, 5.0]
p6_opm2 = [550, 600, 650,
           680, 840, 1000, 1160, 1110, 1220, 1160, 1220, 1320, 1160,
           1060, 1480, 1590, 1750, 2020, 2600, 2650, 2280, 2180, 2070,
           1910, 2280, 2810, 3880, 4260, 4480, 4100, 3620, 3140, 3880,
           4300, 4260, 3830, 3300, 2600, 2450, 3340, 3720, 3560, 3460,
           3620, 3460, 3560, 3340, 3880, 4370, 3080, 2810, 3140, 3340,
           4520, 5640, 4880, 3670, 2980, 3140, 3830, 2860, 2070, 1640,
           1430, 1540, 1380, 1960, 1910, 1750, 1320, 1320, 1000, 1430,
           1640, 1540, 1860, 2390, 2180, 1750, 1320, 1220, 1320, 1160,
           1000, 1110, 1000, 840, 790, 730, 680, 630, 600, 580,
           520, 580, 730, 900, 1220, 1430, 1700, 1750, 1480, 1320,
           1700, 1860, 1540, 1480, 1320, 1590, 2280, 1540, 1320, 1220,
           1160, 1430, 1480, 1540, 1320, 1110, 840, 1220, 1160, 1270,
           1270, 1430, 1700, 1480, 790, 730, 730,
           1000, 600, 400, 300, 350, 300, 450, 400, 300, 200, 130, 140, 90, 100, 60, 30, 20]
p6_op0 = [600, 640, 700,
          730, 880, 1160, 1200, 1100, 1220, 1100, 1220, 1380, 1200,
          1100, 1480, 1590, 1750, 2020, 2600, 2650, 2280, 2180, 2070,
          1910, 2280, 2810, 4520, 5000, 4880, 4520, 4000, 3990, 4630,
          4830, 4520, 3830, 3300, 2600, 2450, 3340, 3720, 3560, 3410,
          3300, 3460, 3560, 3340, 3880, 4370, 2690, 2750, 3140, 3020,
          4520, 5640, 4880, 3670, 2980, 3140, 3830, 2860, 2070, 1640,
          1430, 1540, 1380, 1960, 1910, 1750, 1320, 1320, 1000, 1430,
          1640, 1540, 1860, 2390, 2180, 1750, 1320, 1220, 1320, 1160,
          1000, 1110, 1000, 840, 790, 730, 680, 630, 600, 580,
          520, 580, 800, 1320, 1750, 2070, 2280, 2500, 1960, 1430,
          1750, 2070, 2070, 1700, 1320, 2120, 2330, 1540, 1320, 1220,
          1160, 1430, 1480, 1540, 1320, 1110, 840, 1220, 1160, 1270,
          1270, 1430, 1700, 1480, 790, 730, 730,
          1000, 600, 400, 300, 350, 300, 450, 400, 300, 200, 130, 140, 90, 100, 60, 30, 20]
p6_opp2 = [650, 700, 750,
           790, 900, 1100, 1160, 1120, 1220, 1220, 1220, 1430, 1250,
           1100, 1480, 1590, 1750, 2020, 2600, 2650, 2280, 2180, 2070,
           1910, 2380, 3990, 5480, 6010, 5800, 5060, 3780, 3200, 4370,
           4700, 4400, 3830, 3300, 2600, 2450, 3340, 3720, 3560, 3360,
           3140, 3460, 3560, 3340, 3880, 4370, 3080, 2810, 3140, 3340,
           4520, 5640, 4880, 3670, 2980, 3140, 3930, 2860, 2070, 1640,
           1430, 1540, 1380, 2020, 1910, 1750, 1320, 1320, 1000, 1430,
           1640, 1540, 1860, 2390, 2180, 1750, 1320, 1220, 1320, 1160,
           1000, 1110, 1000, 840, 790, 730, 680, 630, 600, 580,
           520, 580, 840, 1540, 2070, 2390, 2660, 2920, 2180, 1540,
           1810, 2230, 2180, 1750, 1320, 2280, 2450, 1540, 1320, 1220,
           1160, 1430, 1480, 1540, 1320, 1110, 840, 1220, 1160, 1270,
           1270, 1430, 1700, 1480, 790, 730, 730,
           1000, 600, 400, 300, 350, 300, 450, 400, 300, 200, 130, 140, 90, 100, 60, 30, 20]

# axis ranges / labels
y_max = [24000, 14000, 14000, 12000, 8000, 6000]
y_step = [4000, 2000, 2000, 2000, 2000, 2000]
obs_names = ['2RB-12観測', '2RB-8観測', '2RB-10観測', '2RB-18観測', '2RB-7観測', '2RB-17観測']
titles = ['op+50.50m (R10) EW.', 'op+33.20m (R4) EW.', 'op+33.20m (R10) EW.',
          'op+22.50m (R4) EW.', 'op+15.00m (R2) EW.', 'op+ 6.00m (SW) EW.']
x_ticks = [0.05, 0.1, 0.2, 0.5, 1.0, 2.0]
x_tick_labels = ['0.05.', '0.10.', '0.20.', '0.50.', '1.00.', '2.00.']

C_BLUE = '#2a46b4'
C_GREEN = '#62bd40'
C_RED = '#de1f26'
C_BLACK = '#1a1a1a'
FS = 13.5

panels = [
    (p1_t_obs, p1_obs, p1_t_sim, p1_op0, p1_opm2, p1_opp2),
    (p2_t_obs, p2_obs, p2_t_sim, p2_op0, p2_opm2, p2_opp2),
    (p3_t_obs, p3_obs, p3_t_sim, p3_op0, p3_opm2, p3_opp2),
    (p4_t_obs, p4_obs, p4_t_sim, p4_op0, p4_opm2, p4_opp2),
    (p5_t_obs, p5_obs, p5_t_sim, p5_op0, p5_opm2, p5_opp2),
    (p6_t_obs, p6_obs, p6_t_sim, p6_op0, p6_opm2, p6_opp2),
]

fig = plt.figure(figsize=(11.19, 16.25), dpi=100)
lefts = [0.0648, 0.5684]
bottoms = [0.7366, 0.3828, 0.0289]
W, H = 0.3862, 0.2305

dash = (0, (5.5, 4.0))
for i, (t_obs, obs, t_sim, op0, opm2, opp2) in enumerate(panels):
    ax = fig.add_axes([lefts[i % 2], bottoms[i // 2], W, H])
    ax.set_xscale('log')
    ax.set_xlim(0.02, 5.0)
    ax.set_ylim(0, y_max[i])
    ax.set_xticks([])
    ax.set_xticks([], minor=True)
    yt = list(range(0, y_max[i] + 1, y_step[i]))
    ax.set_yticks(yt)
    ax.set_yticklabels([f'{v}.' for v in yt], fontsize=FS)
    ax.tick_params(axis='y', length=0, pad=6)
    for s in ax.spines.values():
        s.set_linewidth(1.1)
        s.set_color('#111111')

    # dashed grid
    for x in x_ticks:
        ax.axvline(x, color='#222222', lw=1.05, ls=dash, zorder=1)
    for y in yt[1:-1]:
        ax.axhline(y, color='#222222', lw=1.05, ls=dash, zorder=1)

    ax.plot(t_obs, obs, color=C_BLACK, lw=1.15, zorder=2, clip_on=False)
    ax.plot(t_sim, opp2, color=C_RED, lw=1.15, zorder=3, clip_on=False)
    ax.plot(t_sim, op0, color=C_BLUE, lw=1.15, zorder=4, clip_on=False)
    ax.plot(t_sim, opm2, color=C_GREEN, lw=1.5, zorder=5, clip_on=False)

    # x tick labels
    tr = mtransforms.blended_transform_factory(ax.transData, ax.transAxes)
    for x, lab in zip(x_ticks, x_tick_labels):
        ax.text(x, -0.037, lab, transform=tr, ha='center', va='center', fontsize=FS)
    ax.text(0.018, -0.037, '0.02', transform=ax.transAxes, ha='center', va='center', fontsize=FS)
    ax.text(0.959, -0.037, '5.00sec', transform=ax.transAxes, ha='left', va='center', fontsize=FS)
    ax.text(0.5, -0.099, titles[i], transform=ax.transAxes, ha='center', va='center', fontsize=14)

    ax.text(0.993, 0.917, 'h=0.01', transform=ax.transAxes, ha='right', va='center', fontsize=17.5)
    ax.text(-0.03, 1.059, 'cm/s²', transform=ax.transAxes, ha='right', va='center', fontsize=FS)

    # legend drawn above the frame
    leg = [(0.0, 1.100, C_BLUE, 'O.P. 0m'), (0.0, 1.052, C_BLACK, obs_names[i]),
           (0.504, 1.100, C_GREEN, 'O.P.-2m'), (0.504, 1.052, C_RED, 'O.P.+2m')]
    for x0, yy, c, lab in leg:
        ax.plot([x0, x0 + 0.193], [yy, yy], color=c, lw=1.4, transform=ax.transAxes, clip_on=False)
        ax.text(x0 + 0.226, yy, lab, transform=ax.transAxes, ha='left', va='center', fontsize=14)

fig.savefig('out.png', dpi=100)
